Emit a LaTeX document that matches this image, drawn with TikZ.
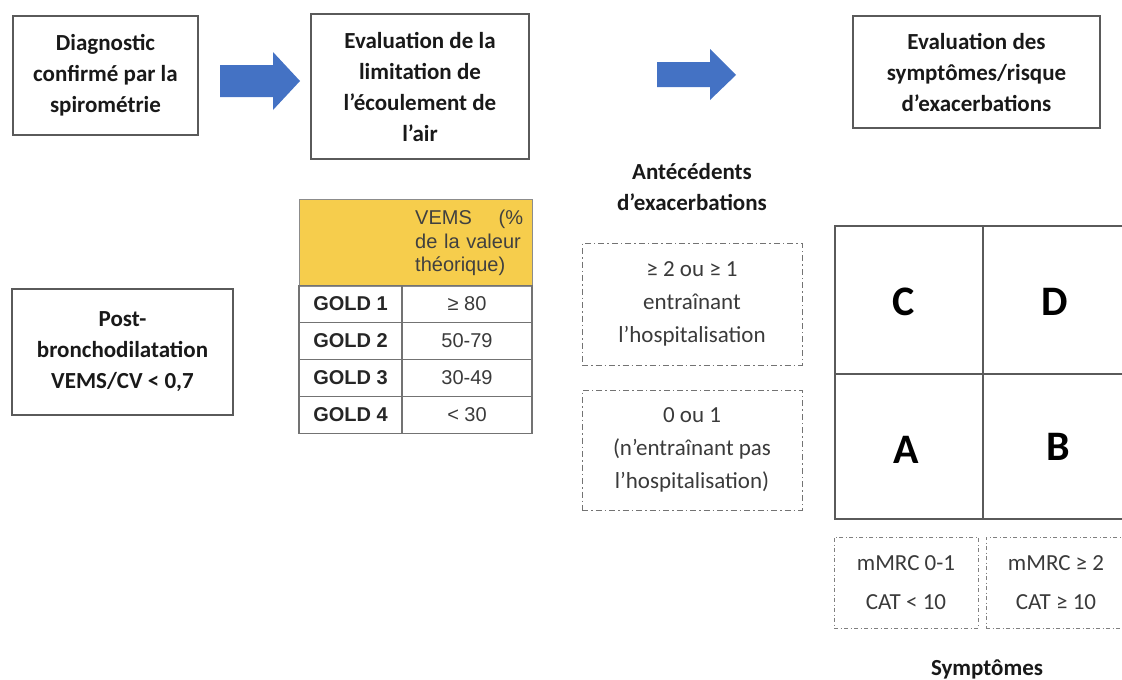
\documentclass[tikz,border=0pt]{standalone}
\usepackage{fontspec}
\setmainfont{Carlito}
\newfontfamily\arialfont{Liberation Sans}
\definecolor{bleufleche}{HTML}{4472C4}
\definecolor{jauneentete}{HTML}{F6CD4C}
\definecolor{traitgris}{HTML}{5A5A5A}
\definecolor{textegris}{HTML}{3A3A3A}

\begin{document}
\begin{tikzpicture}[x=1pt,y=-1pt]
\tikzset{boite/.style={draw=traitgris, line width=2pt, align=center, inner sep=0pt,
    text=black!90, font=\fontsize{23}{31}\selectfont\bfseries},
  boitept/.style={draw=black!55, line width=1pt, dash pattern=on 6pt off 3pt on 1.5pt off 3pt,
    align=center, inner sep=0pt, text=textegris, font=\fontsize{23}{33}\selectfont},
  boitepoint/.style={draw=black!50, line width=1pt, dash pattern=on 4pt off 2.5pt on 1pt off 2.5pt,
    align=center, inner sep=0pt, text=textegris, font=\fontsize{23}{39}\selectfont},
  titre/.style={align=center, inner sep=0pt, text=black!90, font=\fontsize{23}{31}\selectfont\bfseries},
  lettre/.style={inner sep=0pt, text=black, font=\fontsize{42}{46}\selectfont\bfseries},
  casegold/.style={draw=black!55, line width=1.2pt, inner sep=0pt, minimum height=37pt,
    text=black!85, font=\arialfont\fontsize{20}{24}\selectfont\bfseries},
  casevems/.style={draw=black!55, line width=1.2pt, inner sep=0pt, minimum height=37pt,
    text=textegris, font=\arialfont\fontsize{20}{24}\selectfont}}
\useasboundingbox (0,0) rectangle (1122,680);
\clip (0,0) rectangle (1122,680);

% ligne du haut
\node[boite, minimum width=185pt, minimum height=119pt] (diag) at (105.5,75.5)
  {\fontsize{23}{28.5}\selectfont Diagnostic\\confirmé par la\\spirométrie};
\node[boite, minimum width=218pt, minimum height=145pt] (limit) at (420,86.5)
  {Evaluation de la\\limitation de\\l’écoulement de\\l’air};
\node[boite, minimum width=247pt, minimum height=112pt] (sympt) at (976.5,72)
  {Evaluation des\\symptômes/risque\\d’exacerbations};
\fill[bleufleche] (220,65) -- (273,65) -- (273,52) -- (300,81) -- (273,110) -- (273,97) -- (220,97) -- cycle;
\fill[bleufleche] (657,62) -- (710,62) -- (710,49) -- (736,75) -- (710,100) -- (710,87) -- (657,87) -- cycle;

% spirometrie
\node[boite, minimum width=221pt, minimum height=126pt] (post) at (122.5,352)
  {\fontsize{23}{33}\selectfont Post-\\bronchodilatation\\VEMS/CV < 0,7};

% tableau GOLD
\node[draw=black!45, line width=1.2pt, fill=jauneentete, minimum width=233pt, minimum height=87pt,
  inner sep=0pt, anchor=north west] (entete) at (299,199) {};
\node[anchor=west, text width=108pt, align=left, inner sep=0pt, text=black!75,
  font=\arialfont\fontsize{20}{23.5}\selectfont] (vems) at (415,243)
  {VEMS\hfill(\%\\de la valeur\\théorique)};
\node[casegold, minimum width=103pt] (g1) at (350.5,304) {GOLD 1};
\node[casevems, minimum width=130pt] (v1) at (467,304) {≥ 80};
\node[casegold, minimum width=103pt] (g2) at (350.5,341) {GOLD 2};
\node[casevems, minimum width=130pt] (v2) at (467,341) {50-79};
\node[casegold, minimum width=103pt] (g3) at (350.5,378) {GOLD 3};
\node[casevems, minimum width=130pt] (v3) at (467,378) {30-49};
\node[casegold, minimum width=103pt] (g4) at (350.5,415) {GOLD 4};
\node[casevems, minimum width=130pt] (v4) at (467,415) {< 30};

% antecedents
\node[titre] (antec) at (692,187) {Antécédents\\d’exacerbations};
\node[boitept, minimum width=220pt, minimum height=122pt] (exa2) at (692,304)
  {≥ 2 ou ≥ 1\\entraînant\\l’hospitalisation};
\node[boitept, minimum width=220pt, minimum height=120pt] (exa0) at (692,450)
  {0 ou 1\\(n’entraînant pas\\l’hospitalisation)};

% grille ABCD
\draw[traitgris, line width=2.5pt] (1126,226) -- (835,226) -- (835,519) -- (1126,519);
\draw[traitgris, line width=2.5pt] (983,226) -- (983,519);
\draw[traitgris, line width=2.5pt] (835,374) -- (1126,374);
\node[lettre] (C) at (904,302) {C};
\node[lettre] (D) at (1055,302) {D};
\node[lettre] (A) at (906,450) {A};
\node[lettre] (B) at (1058,447) {B};

% symptomes
\node[boitepoint, minimum width=144pt, minimum height=91pt] (mrc0) at (906,582.5)
  {mMRC 0-1\\CAT < 10};
\node[boitepoint, minimum width=140pt, minimum height=91pt] (mrc2) at (1056,582.5)
  {mMRC ≥ 2\\CAT ≥ 10};
\node[titre] (symp) at (987,669) {Symptômes};
\end{tikzpicture}
\end{document}
